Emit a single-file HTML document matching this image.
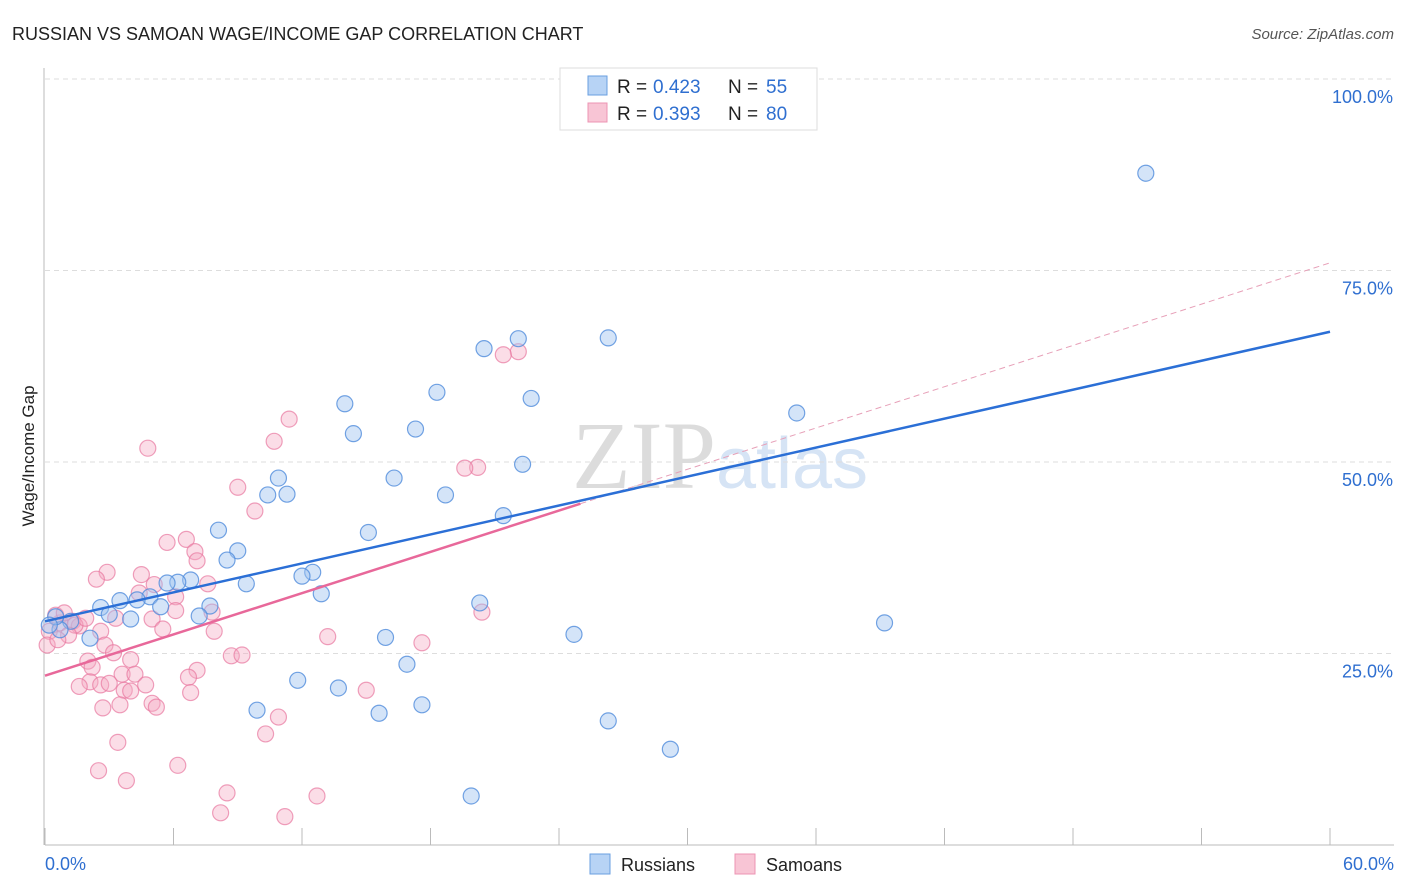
<!DOCTYPE html>
<html><head><meta charset="utf-8">
<style>
body{margin:0;background:#fff;font-family:"Liberation Sans",sans-serif;}
#wrap{position:relative;width:1406px;height:892px;overflow:hidden;}
</style></head>
<body>
<div id="wrap">
<svg id="svg" width="1406" height="892">
  <text x="12" y="40" font-size="18" fill="#222">RUSSIAN VS SAMOAN WAGE/INCOME GAP CORRELATION CHART</text>
  <text x="1394" y="39" font-size="15" fill="#555" font-style="italic" text-anchor="end">Source: ZipAtlas.com</text>
  <text x="720" y="488" font-size="96" fill="#e4e4e4" text-anchor="middle" font-family="Liberation Serif,serif"><tspan fill="#dcdcdc">ZIP</tspan><tspan fill="#d6e4f5" font-family="Liberation Sans,sans-serif" font-size="72">atlas</tspan></text>
  <text transform="translate(34,456) rotate(-90)" font-size="17" fill="#222" text-anchor="middle">Wage/Income Gap</text>
  <g id="grid"></g>
  <g id="pts"></g>
  <g id="lines"></g>
  <g>
    <rect x="560" y="68" width="257" height="62" fill="#fff" stroke="#ddd"/>
    <rect x="588" y="76" width="19" height="19" fill="#b7d3f5" stroke="#6a9fe0"/>
    <rect x="588" y="103" width="19" height="19" fill="#f8c5d5" stroke="#ec94b3"/>
    <text x="617" y="93" font-size="19" fill="#222">R =</text>
    <text x="653" y="93" font-size="19" fill="#2f6fd0">0.423</text>
    <text x="728" y="93" font-size="19" fill="#222">N =</text>
    <text x="766" y="93" font-size="19" fill="#2f6fd0">55</text>
    <text x="617" y="120" font-size="19" fill="#222">R =</text>
    <text x="653" y="120" font-size="19" fill="#2f6fd0">0.393</text>
    <text x="728" y="120" font-size="19" fill="#222">N =</text>
    <text x="766" y="120" font-size="19" fill="#2f6fd0">80</text>
  </g>
  <g>
    <rect x="590" y="854" width="20" height="20" fill="#b7d3f5" stroke="#6a9fe0"/>
    <text x="621" y="871" font-size="18" fill="#222">Russians</text>
    <rect x="735" y="854" width="20" height="20" fill="#f8c5d5" stroke="#ec94b3"/>
    <text x="766" y="871" font-size="18" fill="#222">Samoans</text>
  </g>
</svg>
</div>
<script>
const yTicks=[25,50,75,100];
const yTickLabels=["25.0%","50.0%","75.0%","100.0%"];
const xTicks=[0,6,12,18,24,30,36,42,48,54,60];
const russiansX=[51.4,22.1,26.3,20.5,18.3,22.7,14.0,35.1,14.4,17.3,10.9,16.3,22.3,10.4,11.3,18.7,21.4,8.1,15.1,9.0,8.5,12.5,12.0,9.4,6.8,6.2,5.7,12.9,4.9,4.3,5.4,7.7,3.5,2.6,3.0,4.0,7.2,20.3,39.2,24.7,15.9,16.9,11.8,13.7,9.9,15.6,17.6,26.3,29.2,19.9,2.1,1.2,0.7,0.5,0.2];
const russiansY=[87.7,66.1,66.2,64.8,59.1,58.3,57.6,56.4,53.7,54.3,47.9,47.9,49.7,45.7,45.8,45.7,43.0,41.1,40.8,38.4,37.2,35.6,35.1,34.1,34.6,34.3,34.2,32.8,32.4,32.0,31.1,31.2,31.9,31.0,30.1,29.5,29.9,31.6,29.0,27.5,27.1,23.6,21.5,20.5,17.6,17.2,18.3,16.2,12.5,6.4,27.0,29.2,28.1,29.8,28.7];
const samoansX=[22.1,21.4,20.2,19.6,11.4,10.7,4.8,9.0,9.8,5.7,6.6,7.0,7.1,5.1,4.5,2.9,2.4,7.6,6.1,4.4,7.8,3.3,5.0,1.3,1.6,2.6,6.1,7.9,5.5,13.2,17.6,20.4,2.8,3.2,4.0,2.0,8.7,9.2,2.2,3.6,7.1,6.7,4.2,2.1,2.6,3.0,4.7,3.7,1.6,4.0,6.8,15.0,5.0,5.2,2.7,3.5,10.9,10.3,3.4,2.5,6.2,3.8,8.5,12.7,8.2,11.2,0.7,0.5,0.9,0.2,1.4,1.9,0.1,1.1,0.6];
const samoansY=[64.4,64.0,49.3,49.2,55.6,52.7,51.8,46.7,43.6,39.5,39.9,38.3,37.1,34.0,35.3,35.6,34.7,34.1,32.4,32.9,30.4,29.6,29.5,29.2,28.6,27.9,30.6,27.9,28.2,27.2,26.4,30.4,26.1,25.1,24.2,24.0,24.7,24.8,23.2,22.3,22.8,21.9,22.3,21.3,20.9,21.1,20.9,20.2,20.7,20.1,19.9,20.2,18.5,18.0,17.9,18.3,16.7,14.5,13.4,9.7,10.4,8.4,6.8,6.4,4.2,3.7,29.0,30.0,30.3,27.9,28.7,29.6,26.1,27.4,26.8];
const blueTrendY=[29.2,67.0];
const pinkTrendY=[22.1,76.0];
const pinkSolidEnd=25;

const L=45,R=1330,T=79,B=845;
const xs=v=>L+(v/60)*(R-L);
const ys=v=>B-(v/100)*(B-T);
const NS="http://www.w3.org/2000/svg";
function mk(tag,attrs,parent){const e=document.createElementNS(NS,tag);for(const k in attrs)e.setAttribute(k,attrs[k]);parent.appendChild(e);return e;}
const grid=document.getElementById('grid'),pts=document.getElementById('pts'),lines=document.getElementById('lines');
yTicks.forEach((t,i)=>{
  const g=mk('line',{x1:L,x2:1394,y1:ys(t),y2:ys(t),stroke:'#ddd','stroke-dasharray':'5,4'},grid);
  
  
  const tx=mk('text',{x:1393,y:ys(t)+24,'font-size':18,fill:'#2f6fd0','text-anchor':'end'},grid);
  tx.textContent=yTickLabels[i];
  
  
});
const ax=mk('line',{x1:44,x2:44,y1:68,y2:B,stroke:'#bbb'},grid);


const bx=mk('line',{x1:L,x2:1394,y1:B,y2:B,stroke:'#bbb'},grid);


xTicks.forEach(t=>{
  const tk=mk('line',{x1:xs(t),x2:xs(t),y1:828,y2:B,stroke:'#bbb'},grid);
  
  
});
const x0=mk('text',{x:45,y:870,'font-size':18,fill:'#2f6fd0'},grid);x0.textContent='0.0%';


const x1=mk('text',{x:1394,y:870,'font-size':18,fill:'#2f6fd0','text-anchor':'end'},grid);x1.textContent='60.0%';



samoansX.forEach((v,i)=>{
  const c=mk('circle',{cx:xs(v),cy:ys(samoansY[i]),r:8,fill:'rgba(244,170,196,0.4)',stroke:'rgba(232,120,160,0.7)','stroke-width':1.2},pts);
  
  
});
russiansX.forEach((v,i)=>{
  const c=mk('circle',{cx:xs(v),cy:ys(russiansY[i]),r:8,fill:'rgba(160,196,240,0.45)',stroke:'rgba(80,140,220,0.8)','stroke-width':1.2},pts);
  
  
});
const pAt=x=>pinkTrendY[0]+(pinkTrendY[1]-pinkTrendY[0])*x/60;
const pd=mk('line',{x1:xs(pinkSolidEnd),y1:ys(pAt(pinkSolidEnd)),x2:xs(60),y2:ys(pinkTrendY[1]),stroke:'#e7a0b8','stroke-width':1,'stroke-dasharray':'6,4'},lines);


const bl=mk('line',{x1:xs(0),y1:ys(blueTrendY[0]),x2:xs(60),y2:ys(blueTrendY[1]),stroke:'#2b6fd6','stroke-width':2.5},lines);


const pl=mk('line',{x1:xs(0),y1:ys(pinkTrendY[0]),x2:xs(pinkSolidEnd),y2:ys(pAt(pinkSolidEnd)),stroke:'#e8689a','stroke-width':2.5},lines);


</script>
</body></html>
